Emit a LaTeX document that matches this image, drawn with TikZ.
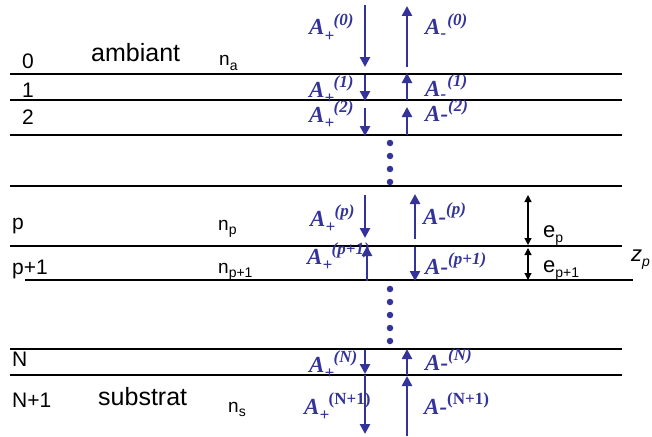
\documentclass[tikz,border=0pt]{standalone}
\usepackage{fontspec}
\setmainfont{Liberation Sans}
\newfontfamily\ampfont{Liberation Serif}
\usetikzlibrary{arrows.meta}
\definecolor{ampblue}{RGB}{51,51,153}
\tikzset{
  interface/.style={line width=1.2pt,draw=black},
  wavearr/.style={-{Triangle[length=10pt,width=10pt]},line width=2.8pt,draw=ampblue},
  thickarr/.style={{Triangle[length=7pt,width=7pt]}-{Triangle[length=7pt,width=7pt]},line width=1.2pt,draw=black},
  dotmark/.style={circle,fill=ampblue,inner sep=0pt,minimum size=6.5pt},
  layerlabel/.style={font=\fontsize{21}{22}\selectfont,anchor=base west,inner sep=0pt},
  indexlabel/.style={font=\fontsize{19}{20}\selectfont,anchor=base west,inner sep=0pt},
  medium/.style={font=\fontsize{25}{28}\selectfont,anchor=base west,inner sep=0pt},
  amplabel/.style={font=\ampfont\bfseries\itshape\fontsize{23}{24}\selectfont,text=ampblue,anchor=base west,inner sep=0pt}
}
% amplitude labels
\newcommand\supsz{\fontsize{17}{17}\selectfont}
\newcommand\subsz{\fontsize{14}{14}\selectfont}
\newcommand\Aplus[1]{A\rlap{\raisebox{-0.3em}{\supsz+}}\kern0.4em\raisebox{0.42em}{\supsz#1}}
\newcommand\Aminus[1]{A\rlap{\raisebox{-0.15em}{\supsz-}}\kern0.3em\raisebox{0.42em}{\supsz#1}}
\newcommand\Adash[1]{A-\raisebox{0.42em}{\supsz#1}}
\newcommand\idx[2]{#1\raisebox{-0.25em}{\subsz#2}}

\begin{document}
\begin{tikzpicture}[x=1pt,y=-1pt]
  \useasboundingbox (0,0) rectangle (652,436);

  % interfaces
  \foreach \yy in {74,100,135,186,246,349,375}
    \draw[interface] (10,\yy) -- (622,\yy);
  \draw[interface] (25,280) -- (633,280);

  % layer names
  \node[layerlabel] (l0) at (22,68) {0};
  \node[layerlabel] (l1) at (22,97) {1};
  \node[layerlabel] (l2) at (22,124) {2};
  \node[layerlabel] (lp) at (12,229) {p};
  \node[layerlabel] (lp1) at (12,274) {p+1};
  \node[layerlabel] (lN) at (12,366) {N};
  \node[layerlabel] (lN1) at (12,407) {N+1};

  \node[medium] (amb) at (91,61) {ambiant};
  \node[medium] (sub) at (98,405) {substrat};

  \node[indexlabel] (na) at (219,66) {\idx{n}{a}};
  \node[indexlabel] (np) at (218,230) {\idx{n}{p}};
  \node[indexlabel] (np1) at (218,273) {\idx{n}{p+1}};
  \node[indexlabel] (ns) at (228,412) {\idx{n}{s}};

  % amplitudes, medium 0
  \coordinate (d0a) at (365,5);   \coordinate (d0b) at (365,67);
  \coordinate (u0a) at (407,67);  \coordinate (u0b) at (407,6);
  \draw[wavearr] (d0a) -- (d0b);
  \draw[wavearr] (u0a) -- (u0b);
  \node[amplabel] (Ap0) at (309,35) {\Aplus{(0)}};
  \node[amplabel] (Am0) at (425,35) {\Aminus{(0)}};

  % layer 1
  \coordinate (d1a) at (365,75);  \coordinate (d1b) at (365,101);
  \coordinate (u1a) at (407,100); \coordinate (u1b) at (407,73);
  \draw[wavearr] (d1a) -- (d1b);
  \draw[wavearr] (u1a) -- (u1b);
  \node[amplabel] (Ap1) at (309,97) {\Aplus{(1)}};
  \node[amplabel] (Am1) at (425,96) {\Aminus{(1)}};

  % layer 2
  \coordinate (d2a) at (365,108); \coordinate (d2b) at (365,136);
  \coordinate (u2a) at (407,135); \coordinate (u2b) at (407,107);
  \draw[wavearr] (d2a) -- (d2b);
  \draw[wavearr] (u2a) -- (u2b);
  \node[amplabel] (Ap2) at (309,122) {\Aplus{(2)}};
  \node[amplabel] (Am2) at (425,121) {\Adash{(2)}};

  % layer p
  \coordinate (dpa) at (365,195); \coordinate (dpb) at (365,238);
  \coordinate (upa) at (415,239); \coordinate (upb) at (415,194);
  \draw[wavearr] (dpa) -- (dpb);
  \draw[wavearr] (upa) -- (upb);
  \node[amplabel] (App) at (310,226) {\Aplus{(p)}};
  \node[amplabel] (Amp) at (423,224) {\Adash{(p)}};

  % layer p+1
  \coordinate (dqa) at (415,247); \coordinate (dqb) at (415,281);
  \coordinate (uqa) at (367,281); \coordinate (uqb) at (367,246);
  \node[amplabel] (Apq) at (307,264) {\Aplus{(p+1)}};
  \node[amplabel] (Amq) at (425,274) {\Adash{(p+1)}};
  \draw[wavearr] (dqa) -- (dqb);
  \draw[wavearr] (uqa) -- (uqb);

  % layer N
  \coordinate (dNa) at (365,350); \coordinate (dNb) at (365,374);
  \coordinate (uNa) at (407,375); \coordinate (uNb) at (407,349);
  \draw[wavearr] (dNa) -- (dNb);
  \draw[wavearr] (uNa) -- (uNb);
  \node[amplabel] (ApN) at (309,372) {\Aplus{(N)}};
  \node[amplabel] (AmN) at (425,370) {\Adash{(N)}};

  % substrate
  \coordinate (dsa) at (365,375); \coordinate (dsb) at (365,434);
  \coordinate (usa) at (407,436); \coordinate (usb) at (407,376);
  \draw[wavearr] (dsa) -- (dsb);
  \draw[wavearr] (usa) -- (usb);
  \node[amplabel] (ApS) at (304,414) {\Aplus{\upshape(N+1)}};
  \node[amplabel] (AmS) at (424,414) {\Adash{\upshape(N+1)}};

  % omitted layers
  \foreach \yy in {143,156,169,182}
    \node[dotmark] at (390,\yy) {};
  \foreach \yy in {289,302,315,328,341}
    \node[dotmark] at (390,\yy) {};

  % thicknesses
  \coordinate (epa) at (528,195);  \coordinate (epb) at (528,245);
  \coordinate (eqa) at (528,248);  \coordinate (eqb) at (528,280);
  \draw[thickarr] (epa) -- (epb);
  \draw[thickarr] (eqa) -- (eqb);
  \node[layerlabel,font=\fontsize{22}{22}\selectfont] (ep) at (543,237) {\idx{e}{p}};
  \node[layerlabel,font=\fontsize{22}{22}\selectfont] (eq) at (543,272) {\idx{e}{p+1}};
  \node[layerlabel,font=\itshape\fontsize{22}{22}\selectfont] (zp) at (631,261) {\idx{z}{p}};
\end{tikzpicture}
\end{document}
